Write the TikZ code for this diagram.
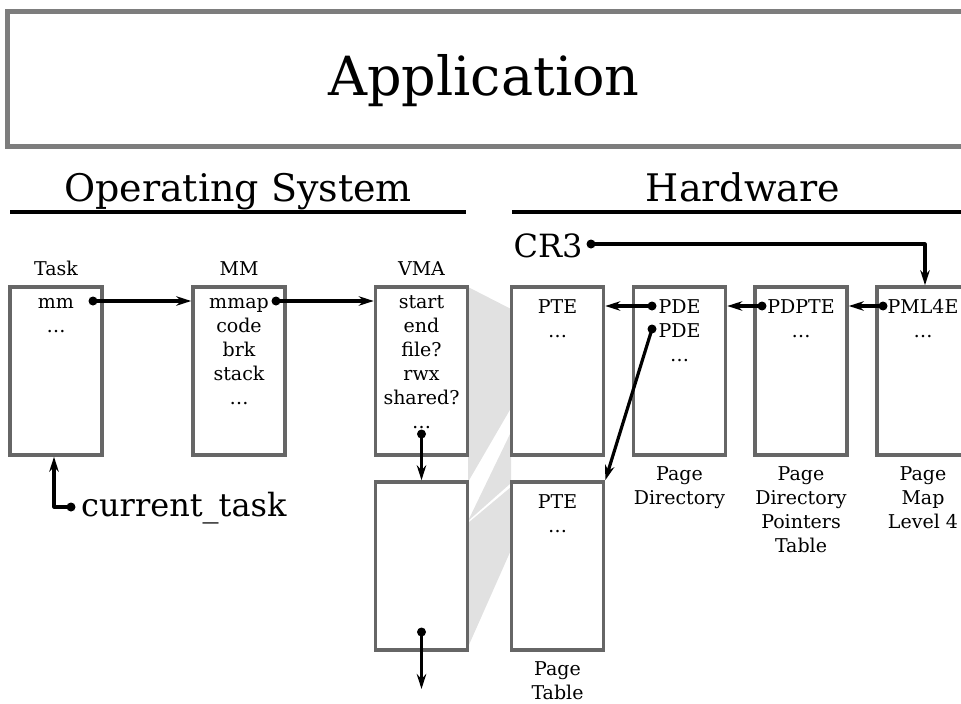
\documentclass[tikz,border=0pt]{standalone}
\usepackage{fontspec}
\setmainfont{DejaVu Serif}
\usetikzlibrary{arrows.meta}

\definecolor{bordecolor}{RGB}{102,102,102}
\definecolor{appcolor}{RGB}{125,125,125}
\definecolor{sombracolor}{RGB}{225,225,225}

\begin{document}
\begin{tikzpicture}[line cap=round, line join=round, x=1pt, y=-1pt,
	caja/.style={draw=bordecolor, line width=3.6pt, line join=miter, fill=white, minimum width=92pt, minimum height=168pt, inner sep=0pt},
	campo/.style={anchor=base, inner sep=0pt, font=\fontsize{19}{24}\selectfont},
	titulo/.style={anchor=base, inner sep=0pt, font=\fontsize{38}{46}\selectfont},
	grande/.style={inner sep=0pt, font=\fontsize{32}{38}\selectfont},
	punto/.style={circle, fill=black, inner sep=0pt, minimum size=9pt},
	ptr/.style={-{Stealth[length=15pt, width=9.5pt, inset=5pt]}, line width=3.2pt},
	raya/.style={line width=3.5pt, line cap=butt}]
		
		\useasboundingbox (0,0) rectangle (961,704);
		\clip (0,0) rectangle (961,704);
		
		% Aplicación
		\draw[appcolor, line width=5pt, line join=miter] (7,11) rectangle (985,146);
		\node[anchor=base, inner sep=0pt, font=\fontsize{54}{62}\selectfont] (app) at (484,95) {Application};
		
		% Secciones
		\node[titulo] (os) at (238,201) {Operating System};
		\node[titulo] (hw) at (743,201) {Hardware};
		\draw[raya] (10,212) -- (466,212);
		\draw[raya] (512,212) -- (980,212);
		
		% Sombras entre VMA y tablas de páginas
		\fill[sombracolor] (468,287) -- (511,309) -- (511,408) -- (468,482) -- cycle;
		\fill[sombracolor] (468,521) -- (511,432) -- (511,483) -- cycle;
		\fill[sombracolor] (468,523) -- (511,487) -- (511,550) -- (468,647) -- cycle;
		
		% Cajas
		\node[caja] (task) at (56,371) {};
		\node[caja] (mm) at (239,371) {};
		\node[caja] (vma1) at (421.5,371) {};
		\node[caja] (vma2) at (421.5,566) {};
		\node[caja] (pt1) at (557.5,371) {};
		\node[caja] (pt2) at (557.5,566) {};
		\node[caja] (pd) at (679.5,371) {};
		\node[caja] (pdpt) at (801,371) {};
		\node[caja] (pml4) at (923,371) {};
		
		% Títulos de las cajas
		\node[campo] (ltask) at (56,275) {Task};
		\node[campo] (lmm) at (239,275) {MM};
		\node[campo] (lvma) at (421.5,275) {VMA};
		
		% Campos (sistema operativo)
		\foreach \t [count=\i] in {mm,…}
		\node[campo] (ftask\i) at (56,{308+24*(\i-1)}) {\t};
		\foreach \t [count=\i] in {mmap,code,brk,stack,…}
		\node[campo] (fmm\i) at (239,{308+24*(\i-1)}) {\t};
		\foreach \t [count=\i] in {start,end,file?,rwx,shared?,…}
		\node[campo] (fvma\i) at (421.5,{308+24*(\i-1)}) {\t};
		
		% Campos (hardware)
		\foreach \t [count=\i] in {PTE,…}
		\node[campo] (fpta\i) at (557.5,{313+24*(\i-1)}) {\t};
		\foreach \t [count=\i] in {PTE,…}
		\node[campo] (fptb\i) at (557.5,{508+24*(\i-1)}) {\t};
		\foreach \t [count=\i] in {PDE,PDE,…}
		\node[campo] (fpd\i) at (679.5,{313+24*(\i-1)}) {\t};
		\foreach \t [count=\i] in {PDPTE,…}
		\node[campo] (fpdpt\i) at (801,{313+24*(\i-1)}) {\t};
		\foreach \t [count=\i] in {PML4E,…}
		\node[campo] (fpml\i) at (923,{313+24*(\i-1)}) {\t};
		
		% Nombres de las tablas
		\foreach \t [count=\i] in {Page,Table}
		\node[campo] (lpt\i) at (557.5,{675+24*(\i-1)}) {\t};
		\foreach \t [count=\i] in {Page,Directory}
		\node[campo] (lpd\i) at (679.5,{480+24*(\i-1)}) {\t};
		\foreach \t [count=\i] in {Page,Directory,Pointers,Table}
		\node[campo] (lpdpt\i) at (801,{480+24*(\i-1)}) {\t};
		\foreach \t [count=\i] in {Page,Map,Level 4}
		\node[campo] (lpml\i) at (923,{480+24*(\i-1)}) {\t};
		
		% Registros
		\node[grande, anchor=base west] (cur) at (81,516) {current\_task};
		\node[grande, anchor=base] (cr3) at (548,257) {CR3};
		
		% Punteros
		\node[punto] (pmm) at (93,301) {};
		\node[punto] (pmmap) at (276,301) {};
		\node[punto] (pnext1) at (421.5,434) {};
		\node[punto] (pnext2) at (421.5,632) {};
		\coordinate (fin) at (421.5,689);
		\node[punto] (pcur) at (71,507) {};
		\node[punto] (pcr3) at (591,244) {};
		\node[punto] (ppml4e) at (883,306) {};
		\node[punto] (ppdpte) at (762,306) {};
		\node[punto] (ppde1) at (652,306) {};
		\node[punto] (ppde2) at (652,329) {};
		
		\draw[ptr] (pmm.center) -- (pmm.center -| mm.west);
		\draw[ptr] (pmmap.center) -- (pmmap.center -| vma1.west);
		\draw[ptr] (pnext1.center) -- (vma2.north);
		\draw[ptr] (pnext2.center) -- (fin);
		\draw[ptr] (pcur.center) -| ([xshift=-2pt]task.south);
		\draw[ptr] (pcr3.center) -| ([xshift=2pt]pml4.north);
		\draw[ptr] (ppml4e.center) -- (ppml4e.center -| pdpt.east);
		\draw[ptr] (ppdpte.center) -- (ppdpte.center -| pd.east);
		\draw[ptr] (ppde1.center) -- (ppde1.center -| pt1.east);
		\draw[ptr] (ppde2.center) -- (pt2.north east);
		
	\end{tikzpicture}
\end{document}
